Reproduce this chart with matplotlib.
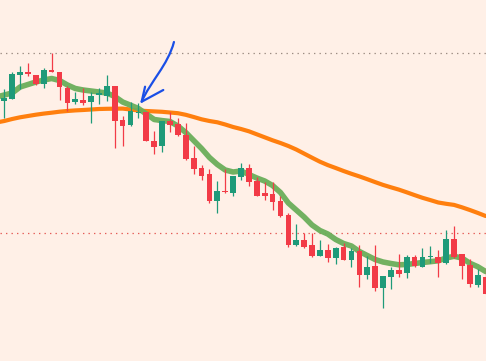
import matplotlib
matplotlib.use("Agg")
import matplotlib.pyplot as plt
from matplotlib.path import Path
from matplotlib.patches import PathPatch
import numpy as np

# ---- data (price units) ----
opens = [260.3, 262.3, 286.3, 289.0, 286.0, 277.3, 291.3, 288.7, 273.0, 259.3,
         261.0, 259.3, 266.3, 265.3, 275.0, 241.0, 236.3, 247.7, 249.0, 220.0,
         215.3, 240.3, 237.3, 226.0, 202.7, 192.7, 186.7, 160.3, 170.3, 168.3,
         184.3, 192.7, 180.0, 168.3, 167.3, 160.0, 146.0, 116.3, 121.0, 116.0,
         105.3, 111.0, 103.3, 114.0, 101.3, 110.0, 86.3, 95.0, 73.3, 84.3,
         91.0, 88.3, 104.0, 94.3, 104.3, 104.0, 98.3, 122.0, 107.0, 96.0,
         76.3, 84.3]
highs = [272.0, 289.3, 295.3, 298.0, 286.0, 293.3, 308.0, 289.0, 275.0, 269.0,
         273.0, 269.0, 273.0, 286.0, 275.0, 245.0, 259.0, 258.3, 249.0, 230.0,
         240.3, 249.0, 243.0, 238.0, 215.0, 196.0, 191.7, 179.7, 191.7, 184.7,
         198.3, 196.7, 183.7, 178.7, 178.7, 165.3, 147.7, 137.0, 128.3, 128.3,
         121.0, 117.0, 114.0, 118.3, 113.0, 116.0, 105.0, 116.0, 85.0, 94.3,
         107.0, 106.0, 106.0, 113.0, 115.0, 111.0, 131.0, 135.0, 107.0, 102.0,
         92.0, 93.3]
lows = [243.3, 262.3, 272.0, 285.3, 275.7, 272.7, 288.7, 261.0, 250.3, 257.3,
        256.3, 238.3, 257.3, 260.3, 213.3, 215.3, 235.3, 243.3, 220.3, 207.3,
        209.3, 229.0, 225.3, 201.3, 187.3, 181.3, 158.3, 148.3, 168.3, 165.3,
        181.0, 175.3, 165.3, 161.0, 151.3, 144.3, 114.3, 115.3, 113.3, 104.3,
        105.3, 99.3, 97.3, 101.3, 94.3, 74.3, 82.3, 70.3, 53.3, 72.3,
        84.3, 83.3, 94.3, 94.3, 98.3, 84.3, 97.3, 103.3, 82.3, 74.3,
        74.3, 67.3]
closes = [263.3, 287.0, 289.0, 286.7, 276.7, 291.3, 288.7, 274.3, 258.3, 262.0,
          258.3, 265.0, 267.7, 275.0, 240.3, 235.3, 250.0, 249.0, 220.3, 214.3,
          240.3, 236.3, 226.3, 202.3, 192.3, 185.3, 159.7, 169.7, 169.3, 184.7,
          192.7, 178.7, 165.3, 165.3, 159.3, 145.3, 116.3, 121.0, 114.3, 105.3,
          111.0, 103.3, 113.0, 101.3, 110.0, 86.3, 94.0, 73.3, 85.0, 91.0,
          87.3, 104.0, 95.3, 104.0, 105.3, 98.3, 122.0, 104.3, 95.3, 77.3,
          86.0, 67.3]

# moving-average lines, one value per bar starting one bar before the first candle
ma_fast = [264, 266, 268, 274, 276.5, 279, 281, 282.5, 280.5, 276, 272.5,
           271, 270, 269, 268, 264.5, 259, 255.8, 252.5, 247, 241.5,
           240.4, 239.5, 235, 228.5, 220.5, 212.5, 203.5, 196.5, 191, 189,
           190, 186.5, 183, 180, 175.5, 168.5, 158, 151, 144, 136,
           130.5, 127, 121.5, 117.5, 115, 109.5, 105.5, 101.5, 99, 97.5,
           96.2, 96.5, 97.5, 98.5, 99.3, 100.2, 103, 104.7, 103, 97.8,
           94.3, 89.5]
ma_slow = [238.5, 240, 242, 243.7, 245, 246.3, 247.4, 248.3, 249.3, 250, 250.6,
           251, 251.5, 252, 252.2, 252.3, 252.4, 251.5, 250.5, 250, 249.6,
           249.2, 248.5, 247.8, 246.2, 244, 241.7, 240, 238.7, 236.5, 234,
           232, 229.7, 226.7, 223.7, 220.7, 218, 215, 211.5, 207.4, 203.3,
           199.3, 195.9, 193, 190, 187.2, 184.6, 181.8, 178.9, 176.1, 173.7,
           171.4, 168.7, 165.9, 163.2, 160.9, 158.5, 157.2, 156.1, 153.7, 151,
           148.1, 145]

levels = [308.0, 128.0]
level_colors = ["#9c8c82", "#e55a55"]

# hand-drawn arrow annotation (bar index, price): bezier shaft and head barbs
arrow_ctrl_x = [21.5, 20.75, 18.47, 17.41]
arrow_ctrl_y = [319.0, 296.0, 279.0, 259.3]
barb_x = [17.84, 17.41, 20.15]
barb_y = [274.3, 259.3, 271.0]

BG = "#fff0e7"
UP = "#1f9a79"
DOWN = "#f23b47"
ARROW = "#1a4fe6"

fig = plt.figure(figsize=(4.86, 3.61), dpi=100, facecolor=BG)
ax = fig.add_axes([0, 0, 1, 1], facecolor=BG)

idx = np.arange(len(opens))
ma_idx = np.arange(-1, len(opens))

for lv, c in zip(levels, level_colors):
    ax.axhline(lv, color=c, lw=0.9, dashes=(1.1, 3.3), zorder=1)

ax.plot(ma_idx, ma_slow, color="#ff7f0e", lw=3.0, solid_capstyle="round", zorder=2)
ax.plot(ma_idx, ma_fast, color="#6aae5a", lw=4.0, alpha=0.95,
        solid_capstyle="round", zorder=2)

w = 0.72
for i, o, h, l, c in zip(idx, opens, highs, lows, closes):
    col = UP if c >= o else DOWN
    ax.vlines(i, l, h, color=col, lw=0.9, zorder=3)
    bottom = min(o, c)
    height = max(abs(c - o), 0.8)
    ax.bar(i, height, bottom=bottom, width=w, color=col, lw=0, zorder=4)

shaft = Path(list(zip(arrow_ctrl_x, arrow_ctrl_y)),
             [Path.MOVETO, Path.CURVE4, Path.CURVE4, Path.CURVE4])
ax.add_patch(PathPatch(shaft, facecolor="none", edgecolor=ARROW, lw=1.6,
                       capstyle="round", joinstyle="round", zorder=5))
ax.plot(barb_x, barb_y, color=ARROW, lw=1.6, solid_capstyle="round",
        solid_joinstyle="round", zorder=5)

ax.set_xlim(-0.545, 61.05)
ax.set_ylim(0, 361)
ax.axis("off")

fig.savefig("out.png", dpi=100, facecolor=BG)
